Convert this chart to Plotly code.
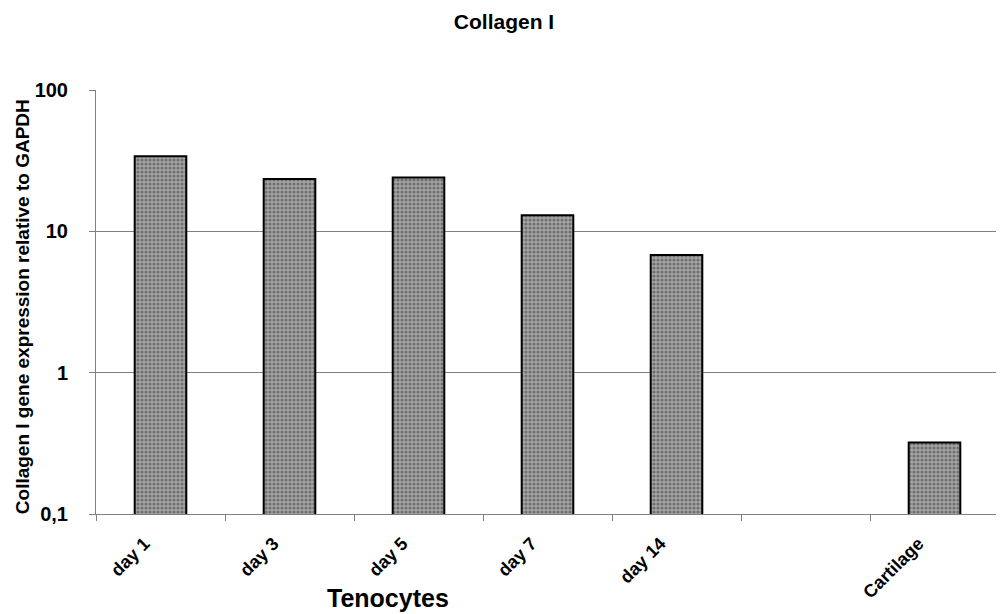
import plotly.graph_objects as go

categories = ["day 1", "day 3", "day 5", "day 7", "day 14", " ", "Cartilage"]
values = [34, 23.5, 24, 13, 6.8, None, 0.32]
y_tickvals = [0.1, 1, 10, 100]
y_ticktext = ["0,1", "1", "10", "100"]
title_text = "Collagen I"
y_title = "Collagen I gene expression relative to GAPDH"
x_title = "Tenocytes"

FONT = "Liberation Sans, Arial, sans-serif"

fig = go.Figure()
fig.add_trace(go.Bar(
    x=categories, y=values, width=0.4,
    marker=dict(
        color="#9c9c9c",
        line=dict(color="black", width=2),
        pattern=dict(shape=".", size=4, solidity=0.5, fgcolor="#383838", bgcolor="#a6a6a6"),
    ),
))

fig.update_layout(
    width=996, height=606,
    margin=dict(l=88, r=5, t=82, b=100),
    paper_bgcolor="white", plot_bgcolor="white",
    showlegend=False,
    font=dict(family=FONT, color="black", size=18),
    title=dict(text=title_text, x=0.498, xanchor="center", y=0.978, yanchor="middle",
               font=dict(family=FONT, size=21, weight="bold", color="black")),
)
fig.update_xaxes(
    type="category", categoryorder="array", categoryarray=categories,
    tickson="boundaries", ticks="outside", ticklen=6, tickcolor="#808080",
    showline=True, linecolor="#808080", linewidth=1, automargin=False,
    showgrid=False, tickangle=-45, ticklabelstandoff=11, ticklabelshift=-16,
    tickfont=dict(family=FONT, size=18, weight="bold", color="black"),
)
fig.update_yaxes(
    type="log", range=[-1, 2], tickvals=y_tickvals, ticktext=y_ticktext,
    ticks="outside", ticklen=6, tickcolor="#808080",
    showline=True, linecolor="#808080", linewidth=1, automargin=False,
    showgrid=True, gridcolor="#808080", gridwidth=1, zeroline=False,
    ticklabelstandoff=17,
    tickfont=dict(family=FONT, size=20, weight="bold", color="black"),
)
fig.add_annotation(text=y_title, xref="paper", yref="paper", x=-0.082, y=0.49,
                   xanchor="center", yanchor="middle", textangle=-90, showarrow=False,
                   font=dict(family=FONT, size=19, weight="bold", color="black"))
fig.add_annotation(text=x_title, xref="paper", yref="paper", x=0.3234, y=-0.198,
                   xanchor="center", yanchor="middle", showarrow=False,
                   font=dict(family=FONT, size=25, weight="bold", color="black"))

fig.write_html("out.html")
